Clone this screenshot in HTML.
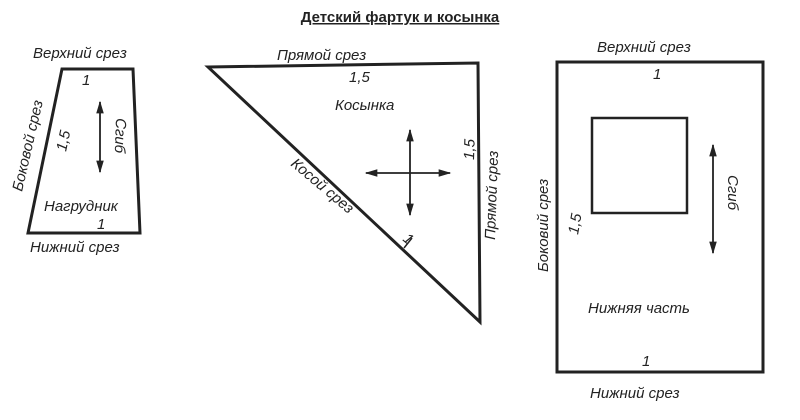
<!DOCTYPE html>
<html><head><meta charset="utf-8"><style>
html,body{margin:0;padding:0;background:#fff;width:800px;height:420px;overflow:hidden}
text{font-family:"Liberation Sans","DejaVu Sans",sans-serif;font-style:italic;fill:#222;font-size:15px}
</style></head><body>
<svg width="800" height="420" viewBox="0 0 800 420" xmlns="http://www.w3.org/2000/svg">
<defs><marker id="a" viewBox="0 0 10 10" refX="9" refY="5" markerWidth="7" markerHeight="7" orient="auto-start-reverse"><path d="M0,2 L10,5 L0,8 Z" fill="#222"/></marker></defs>
<text x="400" y="22" text-anchor="middle" style="font-style:normal;font-weight:bold;font-size:15px;text-decoration:underline">Детский фартук и косынка</text>
<g stroke="#222" fill="none" stroke-width="3">
<polygon points="62,69 133,69 140,233 28,233"/>
<polygon points="208,67 478,63 480,322"/>
<rect x="557" y="62" width="206" height="310"/>
<rect x="592" y="118" width="95" height="95" stroke-width="2.5"/>
</g>
<g stroke="#222" stroke-width="1.8" marker-start="url(#a)" marker-end="url(#a)">
<line x1="100" y1="102" x2="100" y2="172"/>
<line x1="410" y1="130" x2="410" y2="215"/>
<line x1="366" y1="173" x2="450" y2="173"/>
<line x1="713" y1="145" x2="713" y2="253"/>
</g>
<line x1="404" y1="248" x2="412" y2="238" stroke="#222" stroke-width="1.5"/>
<text x="33" y="58">Верхний срез</text>
<text x="82" y="85">1</text>
<text x="44" y="211">Нагрудник</text>
<text x="97" y="229">1</text>
<text x="30" y="252">Нижний срез</text>
<text transform="translate(22,192) rotate(-77)">Боковой срез</text>
<text transform="translate(66,152) rotate(-78)">1,5</text>
<text transform="translate(116,118) rotate(92)">Сгиб</text>
<text x="277" y="60">Прямой срез</text>
<text x="349" y="82">1,5</text>
<text x="335" y="110">Косынка</text>
<text transform="translate(290,165) rotate(40)">Косой срез</text>
<text transform="translate(402,240) rotate(40)">1</text>
<text transform="translate(474,160) rotate(-88)">1,5</text>
<text transform="translate(495,240) rotate(-88)">Прямой срез</text>
<text x="597" y="52">Верхний срез</text>
<text x="653" y="79">1</text>
<text transform="translate(548,272) rotate(-90)">Боковий срез</text>
<text transform="translate(578,235) rotate(-80)">1,5</text>
<text transform="translate(728,175) rotate(90)">Сгиб</text>
<text x="588" y="313">Нижняя часть</text>
<text x="642" y="366">1</text>
<text x="590" y="398">Нижний срез</text>
</svg>
</body></html>
